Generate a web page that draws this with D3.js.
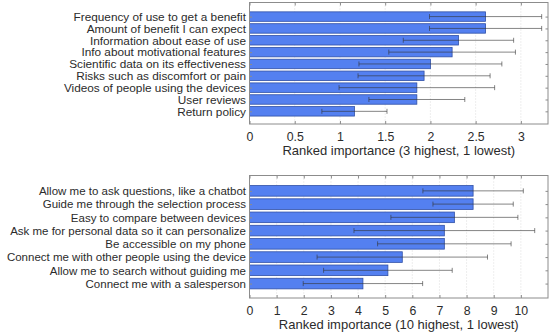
<!DOCTYPE html>
<html>
<head>
<meta charset="utf-8">
<script src="https://cdn.jsdelivr.net/npm/d3@7"></script>
<style>
  body { margin: 0; background: #fff; }
  svg { display: block; font-family: "Liberation Sans", Arial, sans-serif; }
</style>
</head>
<body>
<svg id="chart" width="550" height="332"></svg>
<script>
// top panel: information wanted
const topLabels = [
  "Frequency of use to get a benefit",
  "Amount of benefit I can expect",
  "Information about ease of use",
  "Info about motivational features",
  "Scientific data on its effectiveness",
  "Risks such as discomfort or pain",
  "Videos of people using the devices",
  "User reviews",
  "Return policy"
];
const topMeans = [2.61, 2.61, 2.31, 2.24, 2.00, 1.93, 1.85, 1.85, 1.16];
const topSD = [0.62, 0.62, 0.61, 0.70, 0.79, 0.73, 0.86, 0.53, 0.36];
const topTicks = [0, 0.5, 1, 1.5, 2, 2.5, 3];

// bottom panel: tool features
const botLabels = [
  "Allow me to ask questions, like a chatbot",
  "Guide me through the selection process",
  "Easy to compare between devices",
  "Ask me for personal data so it can personalize",
  "Be accessible on my phone",
  "Connect me with other people using the device",
  "Allow me to search without guiding me",
  "Connect me with a salesperson"
];
const botMeans = [8.24, 8.24, 7.55, 7.18, 7.18, 5.63, 5.10, 4.18];
const botSD = [1.85, 1.48, 2.34, 3.33, 2.46, 3.14, 2.37, 2.20];
const botTicks = [0, 1, 2, 3, 4, 5, 6, 7, 8, 9, 10];

const svg = d3.select("#chart");
const textCol = "#2b2b2b";
const boxCol = "#8c8c8c";

function drawPanel(opts) {
  const { labels, means, sd, ticks, xmax, left, right, top, bottom, ydom, title, labelSize } = opts;
  const g = svg.append("g");
  const x = d3.scaleLinear().domain([0, xmax]).range([left, right]);
  const y = d3.scaleLinear().domain(ydom).range([top, bottom]);
  const step = y(1) - y(0);
  const bh = step * 0.8;

  // grid
  g.selectAll(".grid").data(ticks.filter(t => t > 0)).enter().append("line")
    .attr("x1", d => x(d)).attr("x2", d => x(d))
    .attr("y1", top).attr("y2", bottom)
    .attr("stroke", "#d4d4d4").attr("stroke-width", 0.8)
    .attr("stroke-dasharray", "1,2");

  // bars
  g.selectAll(".bar").data(means).enter().append("rect")
    .attr("x", x(0))
    .attr("y", (d, i) => y(i + 1) - bh / 2)
    .attr("width", d => x(d) - x(0))
    .attr("height", bh)
    .attr("fill", "#5480f0")
    .attr("stroke", "#2f4fa6")
    .attr("stroke-width", 0.8);

  // error bars
  const eb = g.selectAll(".eb").data(means).enter().append("g")
    .attr("stroke", "#333").attr("stroke-opacity", 0.6).attr("stroke-width", 1);
  eb.append("line")
    .attr("x1", (d, i) => x(d - sd[i])).attr("x2", (d, i) => x(d + sd[i]))
    .attr("y1", (d, i) => y(i + 1)).attr("y2", (d, i) => y(i + 1));
  eb.append("line")
    .attr("x1", (d, i) => x(d - sd[i])).attr("x2", (d, i) => x(d - sd[i]))
    .attr("y1", (d, i) => y(i + 1) - 2.5).attr("y2", (d, i) => y(i + 1) + 2.5);
  eb.append("line")
    .attr("x1", (d, i) => x(d + sd[i])).attr("x2", (d, i) => x(d + sd[i]))
    .attr("y1", (d, i) => y(i + 1) - 2.5).attr("y2", (d, i) => y(i + 1) + 2.5);

  // axes
  const xb = g.append("g").attr("transform", `translate(0,${bottom})`)
    .call(d3.axisBottom(x).tickValues(ticks).tickSize(-3).tickPadding(8).tickFormat(d3.format("")));
  const xt = g.append("g").attr("transform", `translate(0,${top})`)
    .call(d3.axisTop(x).tickValues(ticks).tickSize(-3).tickFormat(""));
  const idx = labels.map((d, i) => i + 1);
  const yl = g.append("g").attr("transform", `translate(${left},0)`)
    .call(d3.axisLeft(y).tickValues(idx).tickSize(-2.5).tickPadding(3.5).tickFormat(i => labels[i - 1]));
  const yr = g.append("g").attr("transform", `translate(${right},0)`)
    .call(d3.axisRight(y).tickValues(idx).tickSize(-2.5).tickFormat(""));
  [xb, xt, yl, yr].forEach(a => {
    a.select(".domain").remove();
    a.selectAll(".tick line").attr("stroke", boxCol);
    a.selectAll("text").attr("fill", textCol).style("font-size", "12.3px");
  });
  yl.selectAll("text").style("font-size", labelSize + "px");

  // box
  g.append("rect")
    .attr("x", left).attr("y", top)
    .attr("width", right - left).attr("height", bottom - top)
    .attr("fill", "none").attr("stroke", boxCol).attr("stroke-width", 1);

  g.append("text")
    .attr("x", (left + right) / 2).attr("y", bottom + 30.5)
    .attr("text-anchor", "middle")
    .attr("fill", textCol).style("font-size", "13px")
    .text(title);
}

drawPanel({
  labels: topLabels, means: topMeans, sd: topSD, ticks: topTicks, xmax: 3.3,
  left: 249.5, right: 548, top: 2.5, bottom: 124, ydom: [-0.19, 10.07],
  title: "Ranked importance (3 highest, 1 lowest)", labelSize: 11.8
});
drawPanel({
  labels: botLabels, means: botMeans, sd: botSD, ticks: botTicks, xmax: 11,
  left: 249.5, right: 548, top: 175.5, bottom: 298, ydom: [-0.16, 9.09],
  title: "Ranked importance (10 highest, 1 lowest)", labelSize: 11.5
});
</script>
</body>
</html>
